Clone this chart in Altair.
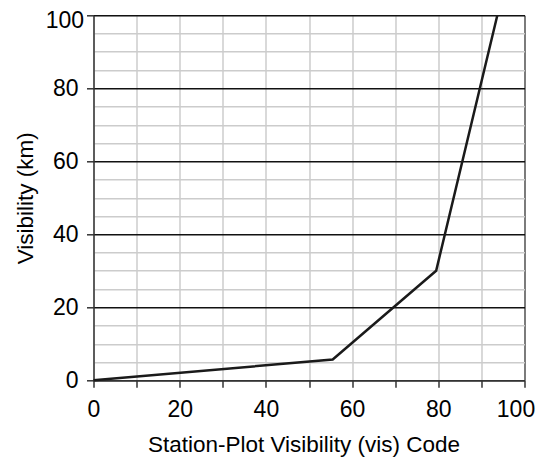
import altair as alt
import pandas as pd

vis_code = [0, 55.5, 79.5, 93.7]
visibility_km = [0, 5.7, 30, 100]

df = pd.DataFrame({"code": vis_code, "km": visibility_km})

FONT = "Liberation Sans"

x_axis = alt.Axis(
    values=list(range(0, 101, 10)),
    labelExpr="datum.value % 20 === 0 ? datum.label : ''",
    labelFlush=False,
    labelOffset=alt.condition("datum.value === 100", alt.value(-9), alt.value(0)),
    grid=True,
    gridColor=alt.condition("datum.value === 100", alt.value("#555555"), alt.value("#cccccc")),
    gridWidth=1.5,
    tickSize=7,
    tickColor="#333333",
    tickWidth=1.5,
    domainColor="#333333",
    domainWidth=1.5,
    labelPadding=11,
    labelFontSize=23,
    labelColor="black",
    labelFont=FONT,
    title="Station-Plot Visibility (vis) Code",
    titleFontSize=22.5,
    titleFont=FONT,
    titleFontWeight="normal",
    titleColor="black",
    titlePadding=12,
    titleX=210,
    titleAlign="center",
)

y_axis = alt.Axis(
    values=list(range(0, 101, 5)),
    labelExpr="datum.value % 20 === 0 ? datum.label : ''",
    labelFlush=False,
    labelOffset=alt.condition("datum.value === 100", alt.value(5.5), alt.value(0)),
    labelPadding=alt.condition("datum.value === 100", alt.value(3), alt.value(8.5)),
    grid=True,
    gridColor=alt.condition("datum.value % 20 === 0", alt.value("#111111"), alt.value("#cccccc")),
    gridWidth=1.5,
    tickSize=7,
    tickColor="#333333",
    tickWidth=1.5,
    tickOpacity=alt.condition("datum.value % 20 === 0", alt.value(1), alt.value(0)),
    domainColor="#333333",
    domainWidth=1.5,
    labelFontSize=23,
    labelColor="black",
    labelFont=FONT,
    title="Visibility (km)",
    titleFontSize=22.5,
    titleFont=FONT,
    titleFontWeight="normal",
    titleColor="black",
    titlePadding=8,
)

chart = (
    alt.Chart(df)
    .mark_line(color="#1a1a1a", strokeWidth=2.5)
    .encode(
        x=alt.X("code:Q", scale=alt.Scale(domain=[0, 100], nice=False), axis=x_axis),
        y=alt.Y("km:Q", scale=alt.Scale(domain=[0, 100], nice=False), axis=y_axis),
    )
    .properties(
        width=431,
        height=365,
        autosize=alt.AutoSizeParams(type="none"),
        padding={"left": 85.5, "top": 7.3, "right": 20, "bottom": 78},
    )
    .configure_view(stroke=None)
    .configure(background="white")
)

chart.save("out.html", embed_options={"renderer": "svg", "actions": False})
